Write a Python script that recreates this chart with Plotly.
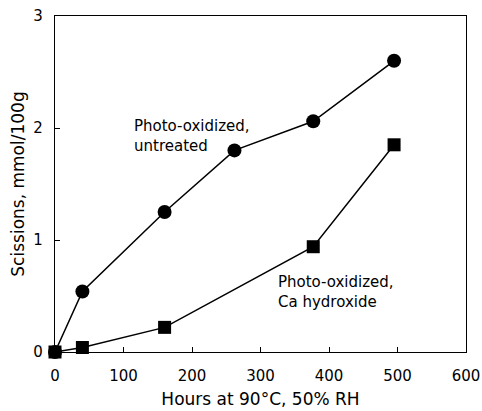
import plotly.graph_objects as go

hours_untreated = [0, 40, 160, 262, 377, 495]
scissions_untreated = [0, 0.54, 1.25, 1.80, 2.06, 2.60]
hours_ca = [0, 40, 160, 377, 495]
scissions_ca = [0, 0.04, 0.22, 0.94, 1.85]

x_ticks = [0, 100, 200, 300, 400, 500, 600]
y_ticks = [0, 1, 2, 3]

FONT = "DejaVu Sans"

fig = go.Figure()
fig.add_trace(go.Scatter(
    x=hours_untreated, y=scissions_untreated, mode="lines+markers",
    line=dict(color="black", width=1.5),
    marker=dict(symbol="circle", size=14, color="black"),
    cliponaxis=False, showlegend=False))
fig.add_trace(go.Scatter(
    x=hours_ca, y=scissions_ca, mode="lines+markers",
    line=dict(color="black", width=1.5),
    marker=dict(symbol="square", size=13, color="black"),
    cliponaxis=False, showlegend=False))

fig.add_annotation(x=113, y=1.93, xref="x", yref="y", xanchor="left", yanchor="middle",
                   text="Photo-oxidized,<br>untreated", showarrow=False, align="left",
                   font=dict(family=FONT, size=15, color="black"))
fig.add_annotation(x=323, y=0.54, xref="x", yref="y", xanchor="left", yanchor="middle",
                   text="Photo-oxidized,<br>Ca hydroxide", showarrow=False, align="left",
                   font=dict(family=FONT, size=15, color="black"))

fig.update_layout(
    width=482, height=411,
    margin=dict(l=55, r=16, t=16, b=59),
    paper_bgcolor="white", plot_bgcolor="white",
    font=dict(family=FONT, size=14, color="black"),
    xaxis=dict(range=[0, 600], tickvals=x_ticks, ticks="inside", ticklen=5,
               tickcolor="black", showline=True, linecolor="black", linewidth=1.2,
               mirror=True, showgrid=False, zeroline=False, automargin=False,
               ticklabelstandoff=10,
               tickfont=dict(family=FONT, size=15),
               title=dict(text="Hours at 90°C, 50% RH", standoff=9,
                          font=dict(family=FONT, size=17))),
    yaxis=dict(range=[0, 3], tickvals=y_ticks, ticks="inside", ticklen=5,
               tickcolor="black", showline=True, linecolor="black", linewidth=1.2,
               mirror=True, showgrid=False, zeroline=False, automargin=False,
               ticklabelstandoff=8,
               tickfont=dict(family=FONT, size=15),
               title=dict(text="Scissions, mmol/100g", standoff=4,
                          font=dict(family=FONT, size=17))),
)

fig.write_html("out.html")
